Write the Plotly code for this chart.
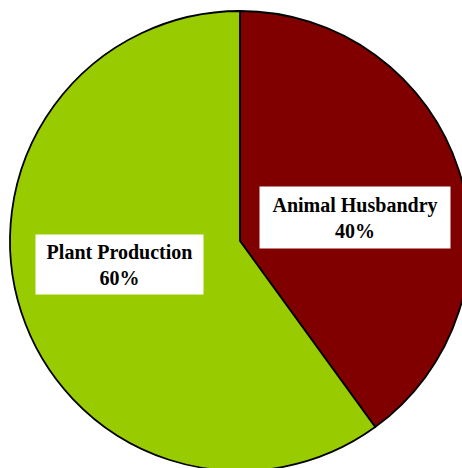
import plotly.graph_objects as go

categories = ["Animal Husbandry", "Plant Production"]
values = [40, 60]
colors = ["#800000", "#99CC00"]

W, H = 480, 484
cx, cy, r = 240, 241, 230

fig = go.Figure(go.Pie(
    labels=categories,
    values=values,
    sort=False,
    direction="clockwise",
    rotation=0,
    marker=dict(colors=colors, line=dict(color="#000000", width=1.8)),
    textinfo="none",
    hoverinfo="skip",
    showlegend=False,
    domain=dict(x=[(cx - r) / W, (cx + r) / W], y=[1 - (cy + r) / H, 1 - (cy - r) / H]),
))

label_boxes = [(355, 217.5, 190, 61), (119.5, 264.5, 167, 59)]
for (name, val), (bx, by, bw, bh) in zip(zip(categories, values), label_boxes):
    fig.add_annotation(
        x=bx / W, y=1 - by / H, xref="paper", yref="paper",
        xanchor="center", yanchor="middle",
        text=f"<b>{name}</b><br><b>{val}%</b>",
        showarrow=False, align="center", valign="middle",
        width=bw, height=bh, borderpad=0, bgcolor="#FFFFFF",
        font=dict(family="Liberation Serif", size=20, color="#000000"),
    )

fig.update_layout(
    width=W, height=H, autosize=False,
    margin=dict(l=0, r=0, t=0, b=0),
    paper_bgcolor="#FFFFFF", plot_bgcolor="#FFFFFF",
)

fig.write_html("out.html", post_script="document.documentElement.style.overflow='hidden';document.body.style.overflow='hidden';document.body.style.margin='0';")
